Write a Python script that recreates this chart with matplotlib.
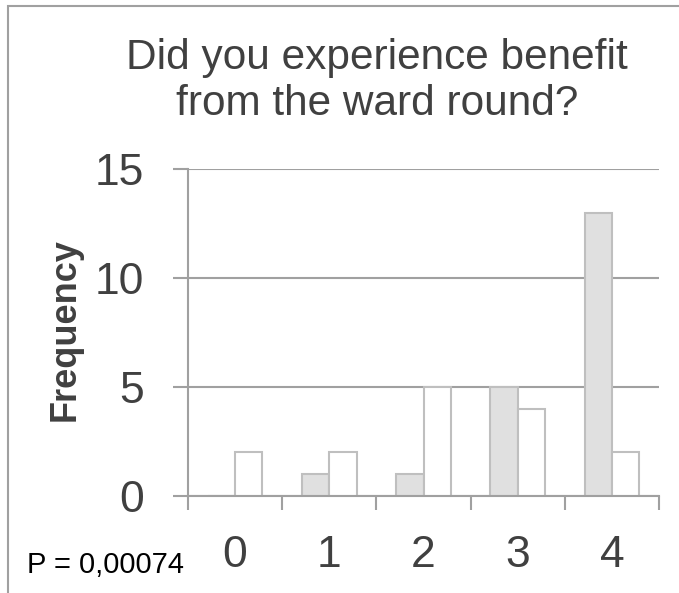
import matplotlib
matplotlib.use("Agg")
import matplotlib.pyplot as plt
from matplotlib.patches import Rectangle

plt.rcParams['font.family'] = ['Liberation Sans', 'DejaVu Sans']

categories = ["0", "1", "2", "3", "4"]
grey_values = [0, 1, 1, 5, 13]
white_values = [2, 2, 5, 4, 2]
y_ticks = [0, 5, 10, 15]
title = "Did you experience benefit\nfrom the ward round?"
ylabel = "Frequency"
p_text = "P = 0,00074"

W, H = 679, 593
fig = plt.figure(figsize=(W / 100, H / 100), dpi=100)

def px(x, y):
    return x / W, 1 - y / H

left, top = px(188, 169)
right, bottom = px(659, 496)
ax = fig.add_axes([left, bottom, right - left, top - bottom])

grid_c = "#a0a0a0"
edge_c = "#bfbfbf"
text_c = "#404040"

x = list(range(len(categories)))
bw = 0.29
ax.bar([i - bw / 2 for i in x], grey_values, width=bw, color="#e0e0e0",
       edgecolor=edge_c, linewidth=1.5, zorder=3)
ax.bar([i + bw / 2 for i in x], white_values, width=bw, color="white",
       edgecolor=edge_c, linewidth=1.5, zorder=3)

ax.set_xlim(-0.5, len(categories) - 0.5)
ax.set_ylim(0, 15)
ax.set_yticks(y_ticks)
ax.set_yticklabels([str(v) for v in y_ticks])
ax.yaxis.grid(True, color=grid_c, linewidth=1.5, zorder=0)
ax.set_axisbelow(True)

ax.set_xticks(x)
ax.set_xticklabels(categories)
ax.set_xticks([i - 0.5 for i in range(len(categories) + 1)], minor=True)
ax.tick_params(axis='x', which='major', length=0, pad=28, labelsize=32, labelcolor=text_c)
ax.tick_params(axis='x', which='minor', length=10, width=1.5, color=grid_c, direction='out')
ax.tick_params(axis='y', length=11, width=1.5, color=grid_c, pad=21, labelsize=32, labelcolor=text_c)

for s in ['top', 'right']:
    ax.spines[s].set_visible(False)
for s in ['left', 'bottom']:
    ax.spines[s].set_color(grid_c)
    ax.spines[s].set_linewidth(1.5)
    ax.spines[s].set_zorder(4)

tx, ty = px(377, 38)
fig.text(tx, ty, title, ha='center', va='top', fontsize=30.5, color=text_c, linespacing=1.2)

fx, fy = px(65, 330)
fig.text(fx, fy, ylabel, rotation=90, ha='center', va='center', fontsize=26,
         fontweight='bold', color=text_c)

ppx, ppy = px(27, 573)
fig.text(ppx, ppy, p_text, ha='left', va='baseline', fontsize=21, color='black')

bx, by = px(8, 6)
fig.patches.append(Rectangle((bx, -0.1), 1.2, by + 0.1, transform=fig.transFigure,
                             fill=False, edgecolor=grid_c, linewidth=1.5))

fig.savefig("out.png", dpi=100)
